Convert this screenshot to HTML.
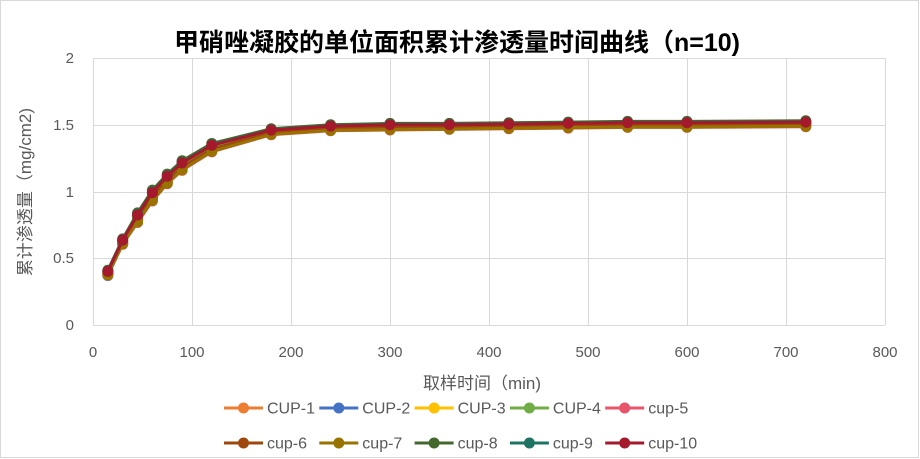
<!DOCTYPE html>
<html><head><meta charset="utf-8"><style>
html,body{margin:0;padding:0;background:#fff;}
svg{display:block;font-family:"Liberation Sans","Noto Sans CJK SC",sans-serif;}
</style></head><body>
<svg id="s" width="920" height="459" xmlns="http://www.w3.org/2000/svg">
<rect x="0.5" y="0.5" width="918" height="457" fill="#fff" stroke="#d9d9d9"/>
<text x="457" y="51" text-anchor="middle" font-size="25" font-weight="bold" fill="#000">甲硝唑凝胶的单位面积累计渗透量时间曲线（n=10)</text>
<g stroke="#d9d9d9" stroke-width="1">
<line x1="93" y1="58.5" x2="885" y2="58.5"/><line x1="93" y1="125.5" x2="885" y2="125.5"/>
<line x1="93" y1="192.5" x2="885" y2="192.5"/><line x1="93" y1="258.5" x2="885" y2="258.5"/>
<line x1="93" y1="325.5" x2="885" y2="325.5"/>
<line x1="93.5" y1="58" x2="93.5" y2="325"/><line x1="192.5" y1="58" x2="192.5" y2="325"/>
<line x1="291.5" y1="58" x2="291.5" y2="325"/><line x1="390.5" y1="58" x2="390.5" y2="325"/>
<line x1="489.5" y1="58" x2="489.5" y2="325"/><line x1="588.5" y1="58" x2="588.5" y2="325"/>
<line x1="687.5" y1="58" x2="687.5" y2="325"/><line x1="786.5" y1="58" x2="786.5" y2="325"/>
<line x1="885.5" y1="58" x2="885.5" y2="325"/>
</g>
<g font-size="15" fill="#595959" text-anchor="end">
<text x="74" y="63">2</text><text x="74" y="130">1.5</text><text x="74" y="197">1</text><text x="74" y="263">0.5</text><text x="74" y="330">0</text>
</g>
<g font-size="15" fill="#595959" text-anchor="middle">
<text x="93" y="357">0</text><text x="192" y="357">100</text><text x="291" y="357">200</text><text x="390" y="357">300</text><text x="489" y="357">400</text><text x="588" y="357">500</text><text x="687" y="357">600</text><text x="786" y="357">700</text><text x="885" y="357">800</text>
</g>
<text x="482" y="389" text-anchor="middle" font-size="17" fill="#595959">取样时间（min)</text>
<text transform="translate(31,192) rotate(-90)" text-anchor="middle" font-size="17" fill="#595959">累计渗透量（mg/cm2)</text>
<g id="series"></g>
<g id="legend" font-size="16" fill="#595959"></g>
</svg>
<script>
var t=[15,30,45,60,75,90,120,180,240,300,360,420,480,540,600,720];
var hi=[0.41,0.645,0.84,1.01,1.13,1.23,1.36,1.47,1.50,1.51,1.51,1.515,1.52,1.525,1.525,1.53];
var lo=[0.37,0.60,0.76,0.92,1.05,1.15,1.29,1.42,1.45,1.455,1.46,1.465,1.47,1.475,1.475,1.48];
var S=[["CUP-1","#ED7D31",0.3],["CUP-2","#4472C4",0.2],["CUP-3","#FFC000",0.5],["CUP-4","#70AD47",0.6],["cup-5","#E8546A",0.1],["cup-6","#9E480E",0.4],["cup-7","#997300",0.15],["cup-8","#43682B",1.0],["cup-9","#1E7362",0.85],["cup-10","#A5192C",0.8]];
var ns="http://www.w3.org/2000/svg",g=document.getElementById("series"),L=document.getElementById("legend");
function el(n,a,p){var e=document.createElementNS(ns,n);for(var k in a)e.setAttribute(k,a[k]);p.appendChild(e);return e;}
S.forEach(function(s,i){
 var pts=t.map(function(x,j){var v=lo[j]+(hi[j]-lo[j])*s[2];if(j==0&&s[0]=="CUP-2")v=0.37;return [93+x*0.99,325-v*133.5];});
 el("polyline",{points:pts.map(function(p){return p.join(",")}).join(" "),fill:"none",stroke:s[1],"stroke-width":3,"stroke-linejoin":"round"},g);
 pts.forEach(function(p){el("circle",{cx:p[0],cy:p[1],r:5.5,fill:s[1]},g);});
 var r=i<5?0:1,c=i%5,x=224+c*95.3,y=r?443:408;
 el("line",{x1:x,y1:y,x2:x+39,y2:y,stroke:s[1],"stroke-width":3},L);
 el("circle",{cx:x+19.5,cy:y,r:5.5,fill:s[1]},L);
 var tx=el("text",{x:x+43,y:y+5.5},L);tx.textContent=s[0];
});
</script>
</body></html>
